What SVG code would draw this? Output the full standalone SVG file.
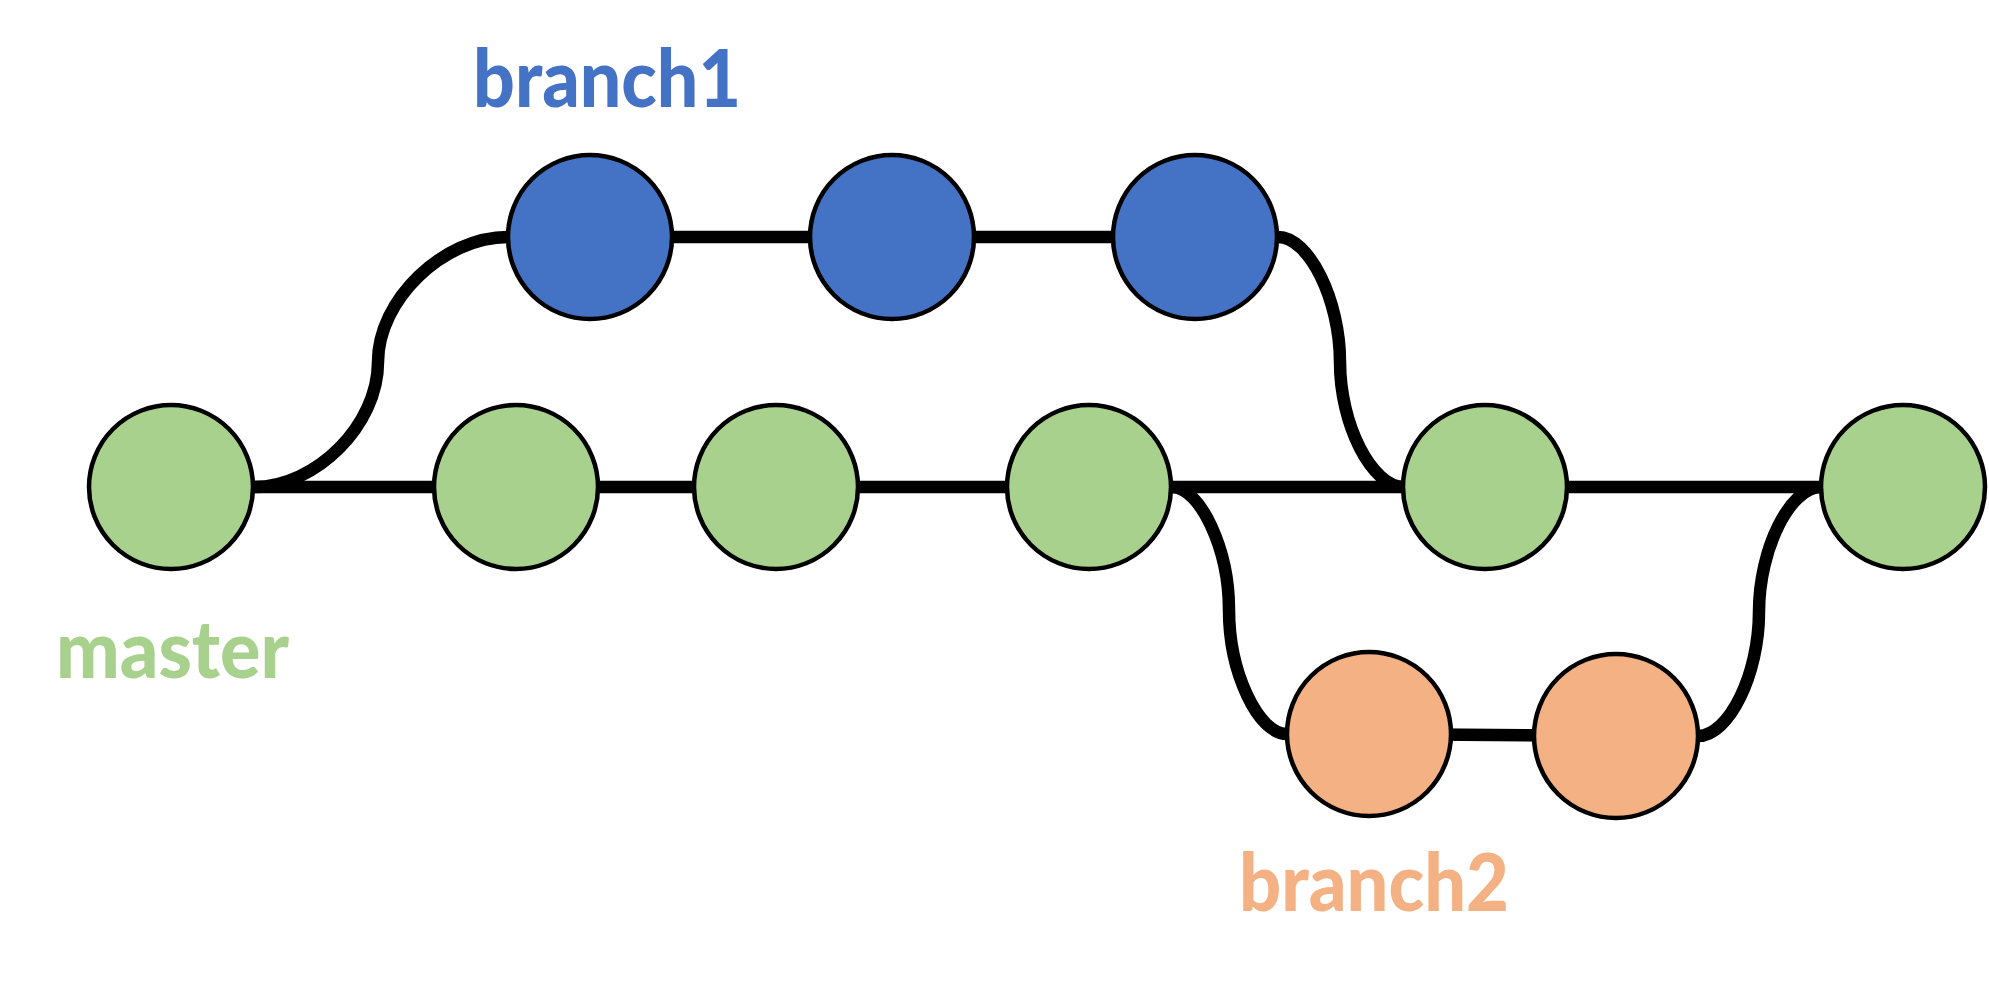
<svg xmlns="http://www.w3.org/2000/svg" width="1989" height="985" viewBox="0 0 1989 985">
<style>
.conn{fill:none;stroke:#000;stroke-width:12.5}
.node{stroke:#000;stroke-width:4.5}
.master{fill:#A9D18E}
.b1{fill:#4472C4}
.b2{fill:#F4B183}
.lbl{font-family:Lato,"Open Sans","Liberation Sans",sans-serif;font-weight:900;font-size:80px}
</style>
<rect width="1989" height="985" fill="#fff"/>
<g id="connectors">
<line class="conn" x1="171" y1="487" x2="1903" y2="487"/>
<line class="conn" x1="590" y1="237" x2="1195" y2="237"/>
<line class="conn" x1="1369" y1="734" x2="1616" y2="736"/>
<path class="conn" d="M254,487 C316,487 378,425 378,362 C378,300 443,237 508,237"/>
<path class="conn" d="M1278,237 C1309,237 1340,300 1340,362 C1340,425 1372,487 1404,487"/>
<path class="conn" d="M1172,487 C1200,487 1229,549 1229,610 C1229,672 1258,734 1287,734"/>
<path class="conn" d="M1698,736 C1729,736 1759,674 1759,612 C1759,549 1790,487 1821,487"/>
</g>
<g id="m1"><circle class="node master" cx="171" cy="487" r="82"/></g>
<g id="m2"><circle class="node master" cx="516" cy="487" r="82"/></g>
<g id="m3"><circle class="node master" cx="776" cy="487" r="82"/></g>
<g id="m4"><circle class="node master" cx="1089" cy="487" r="82"/></g>
<g id="m5"><circle class="node master" cx="1485" cy="487" r="82"/></g>
<g id="m6"><circle class="node master" cx="1903" cy="487" r="82"/></g>
<g id="b1n1"><circle class="node b1" cx="590" cy="237" r="82"/></g>
<g id="b1n2"><circle class="node b1" cx="892" cy="237" r="82"/></g>
<g id="b1n3"><circle class="node b1" cx="1195" cy="237" r="82"/></g>
<g id="b2n1"><circle class="node b2" cx="1369" cy="734" r="82"/></g>
<g id="b2n2"><circle class="node b2" cx="1616" cy="736" r="82"/></g>
<g id="labels">
<text class="lbl" x="473" y="107" fill="#4472C4" textLength="268" lengthAdjust="spacingAndGlyphs">branch1</text>
<text class="lbl" x="56" y="678" fill="#A9D18E" textLength="233" lengthAdjust="spacingAndGlyphs">master</text>
<text class="lbl" x="1239" y="911" fill="#F4B183" textLength="270" lengthAdjust="spacingAndGlyphs">branch2</text>
</g>
</svg>
